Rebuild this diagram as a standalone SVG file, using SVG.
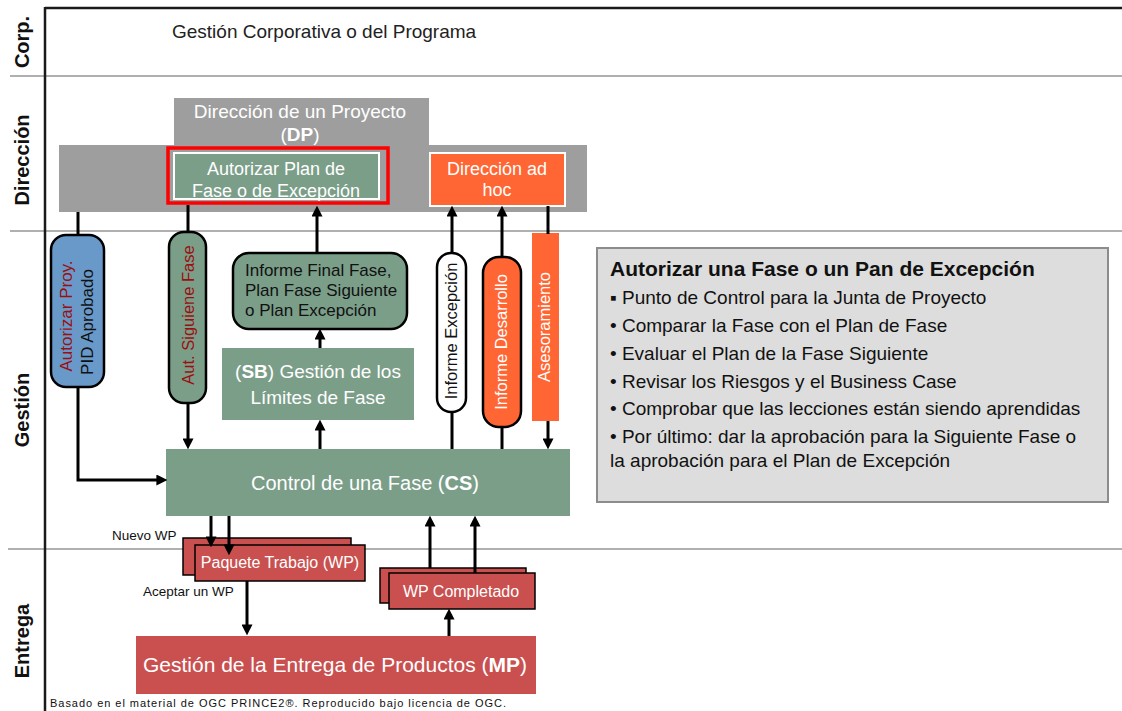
<svg xmlns="http://www.w3.org/2000/svg" width="1122" height="711" viewBox="0 0 1122 711">
<defs>
<marker id="ah" viewBox="0 0 10 10" markerWidth="11" markerHeight="11" markerUnits="userSpaceOnUse" refX="6" refY="5" orient="auto">
<path d="M0,0 L10,5 L0,10 z" fill="#000"/>
</marker>
<style>
text{font-family:"Liberation Sans",Arial,sans-serif}
.lane{stroke:#b0b0b0;stroke-width:2;fill:none}
.frame{stroke:#1a1a1a;stroke-width:2.5;fill:none}
.lbl{font-size:20px;font-weight:bold;fill:#111;text-anchor:middle}
.c{stroke:#000;stroke-width:3;fill:none}
.ca{stroke:#000;stroke-width:3;fill:none;marker-end:url(#ah)}
.green{fill:#7b9e89}
.gray{fill:#9e9e9e}
.orange{fill:#ff6633}
.red{fill:#c9504f}
.wt{fill:#fff;text-anchor:middle}
.pill{stroke:#000;stroke-width:2.5}
.dr{fill:#9a1010}
.side{font-size:19px;fill:#111}
</style>
</defs>

<g id="lanes">
<line class="lane" x1="10" y1="76" x2="1122" y2="76"/>
<line class="lane" x1="10" y1="231" x2="1122" y2="231"/>
<line class="lane" x1="8" y1="549" x2="1122" y2="549"/>
<line class="frame" x1="45" y1="8" x2="1122" y2="8"/>
<line class="frame" x1="45" y1="7" x2="45" y2="711"/>
<text class="lbl" transform="translate(29,42) rotate(-90)">Corp.</text>
<text class="lbl" transform="translate(29,160) rotate(-90)">Dirección</text>
<text class="lbl" transform="translate(29,410) rotate(-90)">Gestión</text>
<text class="lbl" transform="translate(29,641) rotate(-90)">Entrega</text>
<text x="172" y="38" font-size="19" fill="#222">Gestión Corporativa o del Programa</text>
</g>

<g id="dp">
<rect class="gray" x="174" y="98" width="255" height="50"/>
<rect class="gray" x="59" y="145" width="528" height="67"/>
<text class="wt" x="300" y="118" font-size="19" fill="#f4f4f4">Dirección de un Proyecto</text>
<text class="wt" x="300" y="141" font-size="19">(<tspan font-weight="bold">DP</tspan>)</text>
</g>

<g id="autorizar">
<rect class="green" x="174" y="153" width="205" height="46" stroke="#fff" stroke-width="2"/>
<rect x="168" y="148" width="220" height="55" fill="none" stroke="#ff0000" stroke-width="3.5"/>
<text class="wt" x="276" y="175" font-size="18">Autorizar Plan de</text>
<text class="wt" x="276" y="197" font-size="18">Fase o de Excepción</text>
</g>

<g id="adhoc">
<rect class="orange" x="430" y="153" width="135" height="53" stroke="#fff" stroke-width="2"/>
<text class="wt" x="497" y="175" font-size="18">Dirección ad</text>
<text class="wt" x="497" y="196" font-size="18">hoc</text>
</g>

<g id="pid">
<rect class="pill" x="51" y="235" width="53" height="152" rx="15" fill="#6899c9"/>
<text class="dr" font-size="17" text-anchor="middle" transform="translate(72,316) rotate(-90)">Autorizar Proy.</text>
<text font-size="17" fill="#111" text-anchor="middle" transform="translate(93,322) rotate(-90)">PID Aprobado</text>
</g>

<g id="autsig">
<rect class="pill green" x="169" y="232" width="37" height="171" rx="15"/>
<text class="dr" font-size="16.5" text-anchor="middle" transform="translate(194,315) rotate(-90)">Aut. Siguiene Fase</text>
</g>

<g id="informefinal">
<rect class="pill green" x="233" y="253" width="174" height="76" rx="16"/>
<text x="245" y="276" font-size="17" fill="#111">Informe Final Fase,</text>
<text x="245" y="296" font-size="17" fill="#111">Plan Fase Siguiente</text>
<text x="245" y="316" font-size="17" fill="#111">o Plan Excepción</text>
</g>

<g id="sb">
<rect class="green" x="222" y="348" width="192" height="72"/>
<text class="wt" x="318" y="378" font-size="19">(<tspan font-weight="bold">SB</tspan>) Gestión de los</text>
<text class="wt" x="318" y="404" font-size="19">Límites de Fase</text>
</g>

<g id="excepcion">
<rect class="pill" x="437" y="253" width="29" height="159" rx="14" fill="#fff"/>
<text font-size="16.5" fill="#111" text-anchor="middle" transform="translate(457,331) rotate(-90)">Informe Excepción</text>
</g>

<g id="desarrollo">
<rect class="pill orange" x="483" y="257" width="38" height="170" rx="16"/>
<text class="wt" font-size="16.5" transform="translate(507,342) rotate(-90)">Informe Desarrollo</text>
</g>

<g id="asesoramiento">
<rect class="orange" x="532" y="233" width="27" height="188"/>
<text class="wt" font-size="16.5" transform="translate(550,327) rotate(-90)">Asesoramiento</text>
</g>

<g id="cs">
<rect class="green" x="166" y="449" width="404" height="67"/>
<text class="wt" x="365" y="490" font-size="20">Control de una Fase (<tspan font-weight="bold">CS</tspan>)</text>
</g>

<g id="wp">
<rect class="red" x="183" y="538" width="168" height="37" stroke="#000" stroke-width="1.5"/>
<rect class="red" x="195" y="545" width="170" height="36" stroke="#000" stroke-width="1.5"/>
<text class="wt" x="280" y="568" font-size="16">Paquete Trabajo (WP)</text>
</g>

<g id="labels">
<text x="112" y="540" font-size="13.5" fill="#111">Nuevo WP</text>
<text x="143" y="596" font-size="13.5" fill="#111">Aceptar un WP</text>
</g>

<g id="wpc">
<rect class="red" x="380" y="568" width="146" height="35" stroke="#000" stroke-width="1.5"/>
<rect class="red" x="389" y="573" width="146" height="36" stroke="#000" stroke-width="1.5"/>
<text class="wt" x="461" y="597" font-size="16">WP Completado</text>
</g>

<g id="mp">
<rect class="red" x="136" y="636" width="400" height="58"/>
<text class="wt" x="335" y="672" font-size="21">Gestión de la Entrega de Productos (<tspan font-weight="bold">MP</tspan>)</text>
</g>

<g id="info">
<rect x="597" y="248" width="511" height="254" fill="#dddddd" stroke="#8c8c8c" stroke-width="2"/>
<text x="610" y="276" font-size="21" font-weight="bold" fill="#111">Autorizar una Fase o un Pan de Excepción</text>
<text class="side" x="610" y="304">▪ Punto de Control para la Junta de Proyecto</text>
<text class="side" x="610" y="332">• Comparar la Fase con el Plan de Fase</text>
<text class="side" x="610" y="360">• Evaluar el Plan de la Fase Siguiente</text>
<text class="side" x="610" y="388">• Revisar los Riesgos y el Business Case</text>
<text class="side" x="610" y="415">• Comprobar que las lecciones están siendo aprendidas</text>
<text class="side" x="610" y="443">• Por último: dar la aprobación para la Siguiente Fase o</text>
<text class="side" x="610" y="467">la aprobación para el Plan de Excepción</text>
</g>

<g id="footer">
<text x="50" y="707" font-size="11" fill="#111" textLength="456" lengthAdjust="spacing">Basado en el material de OGC PRINCE2®. Reproducido bajo licencia de OGC.</text>
</g>

<g id="connectors">
<path class="c" d="M78,212 V236"/>
<path class="ca" d="M78,387 V480 H163"/>
<path class="c" d="M188,205 V233"/>
<path class="ca" d="M188,403 V445"/>
<path class="ca" d="M317,253 V210"/>
<path class="ca" d="M320,348 V333"/>
<path class="ca" d="M320,449 V424"/>
<path class="ca" d="M452,253 V210"/>
<path class="c" d="M452,412 V449"/>
<path class="ca" d="M502,257 V210"/>
<path class="c" d="M502,427 V449"/>
<path class="c" d="M548,206 V234"/>
<path class="ca" d="M548,421 V445"/>
<path class="ca" d="M211,516 V543"/>
<path class="ca" d="M229,516 V551"/>
<path class="ca" d="M247,581 V631"/>
<path class="ca" d="M430,568 V520"/>
<path class="ca" d="M475,573 V520"/>
<path class="ca" d="M449,636 V613"/>
</g>
</svg>
